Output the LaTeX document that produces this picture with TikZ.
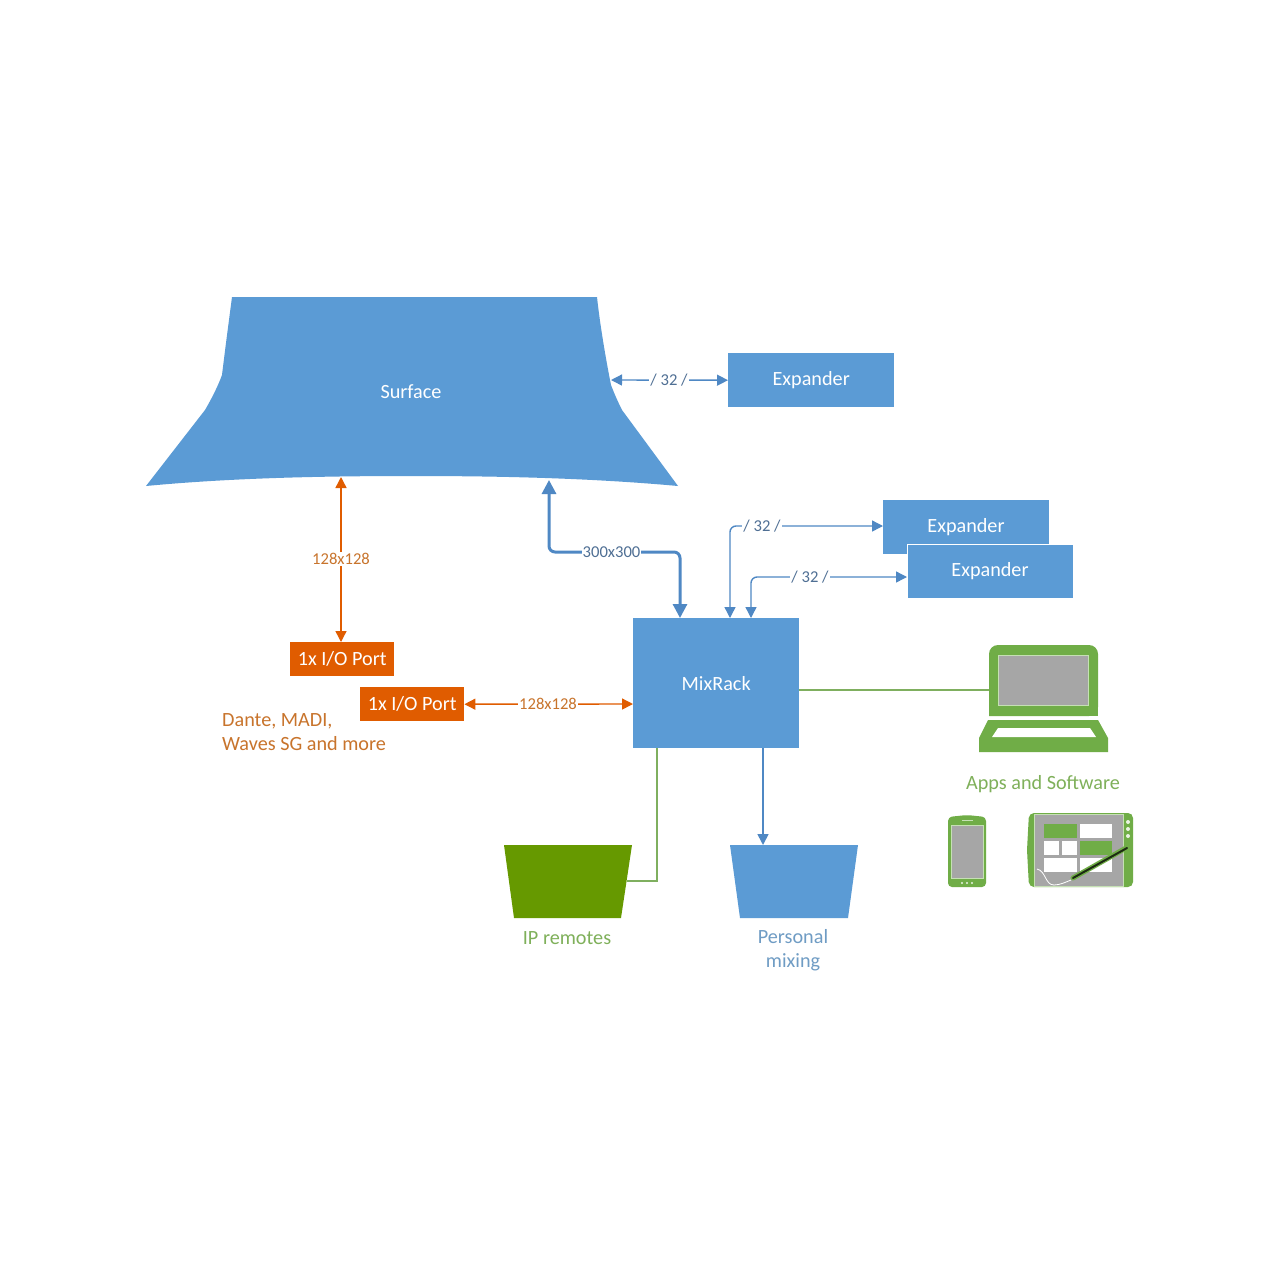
\documentclass[tikz,border=0pt]{standalone}
\usepackage{fontspec}
\setmainfont{Carlito}
\usetikzlibrary{arrows.meta}
\definecolor{mblue}{HTML}{5B9BD5}
\definecolor{lblue}{HTML}{4F88C4}
\definecolor{txtblue}{HTML}{4F6F94}
\definecolor{lightblue}{HTML}{6F9CC4}
\definecolor{morange}{HTML}{E05C00}
\definecolor{txtorange}{HTML}{C8742C}
\definecolor{mgreen}{HTML}{70AD47}
\definecolor{linegreen}{HTML}{7FAF5F}
\definecolor{dgreen}{HTML}{669900}
\definecolor{txtgreen}{HTML}{7FB05A}
\definecolor{scrgray}{HTML}{A6A6A6}
\definecolor{scrline}{HTML}{C5E0B4}
\tikzset{
  base text/.style={font=\fontsize{20.2}{24}\selectfont},
  box/.style={base text,fill=mblue,text=white,inner sep=0pt,anchor=north west},
  portbox/.style={box,fill=morange,minimum width=104pt,minimum height=34pt},
  expbox/.style={box,minimum width=166pt,minimum height=54pt},
  tag/.style={font=\fontsize{16.6}{20}\selectfont,fill=white,inner sep=1pt},
  bluetag/.style={tag,text=txtblue},
  orangetag/.style={tag,text=txtorange},
  caption/.style={base text,inner sep=0pt,align=center},
  bluewire/.style={draw=lblue,line width=1.4pt,rounded corners=6pt,{Triangle[length=11pt,width=11pt]}-{Triangle[length=11pt,width=11pt]}},
  thickwire/.style={bluewire,line width=3pt,{Triangle[length=14pt,width=14pt]}-{Triangle[length=14pt,width=14pt]}},
  orangewire/.style={draw=morange,line width=1.4pt,{Triangle[length=11pt,width=11pt]}-{Triangle[length=11pt,width=11pt]}},
  greenwire/.style={draw=linegreen,line width=1.6pt},
  oneway/.style={draw=lblue,line width=1.6pt,-{Triangle[length=11pt,width=11pt]}},
}
\begin{document}
\begin{tikzpicture}[x=1pt,y=-1pt]
\useasboundingbox (0,0) rectangle (1280,1280);
\fill[white] (0,0) rectangle (1280,1280);

% anchor points
\coordinate (sfRight) at (611,380);
\coordinate (sfLeftIn) at (341,477);
\coordinate (portTop) at (341,642);
\coordinate (sfRightIn) at (549,480);
\coordinate (mixThick) at (680,618);
\coordinate (mixA) at (730,618);
\coordinate (mixB) at (751,618);
\coordinate (mixL) at (633,704);
\coordinate (mixG) at (799,690);
\coordinate (mixIP) at (657,748);
\coordinate (mixPM) at (763,748);
\coordinate (ipEdge) at (627,881);
\coordinate (pmTop) at (763,845);
\coordinate (expC) at (883,526);
\coordinate (expD) at (907,577);
\coordinate (lapEdge) at (989,690);

% surface
\fill[mblue] (232,297) -- (597,297) .. controls (600,325) and (606,360) .. (611,385)
  .. controls (614,393) and (618,402) .. (622,410) -- (678,486)
  .. controls (590,478) and (500,476) .. (412,476)
  .. controls (320,476) and (230,478) .. (146,486) -- (205,410)
  .. controls (212,398) and (218,386) .. (222,375) .. controls (225,350) and (229,320) .. (232,297) -- cycle;
\node[base text,text=white,inner sep=0pt] (surface) at (411,392) {Surface};

% boxes
\node[expbox] (exp1) at (728,353) {Expander};
\node[expbox] (exp2) at (883,499.5) {};
\node[base text,text=white,inner sep=0pt] (exp2t) at (966,527) {Expander};
\node[expbox,draw=white,line width=1pt] (exp3) at (906.5,543.5) {Expander};
\node[box,minimum width=166pt,minimum height=130pt] (mix) at (633,618) {MixRack};
\node[portbox] (port1) at (290,642) {1x I/O Port};
\node[portbox] (port2) at (360,687) {1x I/O Port};

% trapezoids
\fill[dgreen] (504,845) -- (632,845) -- (621,918) -- (514,918) -- cycle;
\fill[mblue] (730,845) -- (858,845) -- (848,918) -- (740,918) -- cycle;

% connectors
\draw[bluewire] (sfRight) -- (exp1.west);
\draw[orangewire] (sfLeftIn) -- (portTop);
\draw[thickwire] (sfRightIn) -- (549,552) -- (680,552) -- (mixThick);
\draw[bluewire] (mixA) -- (730,526) -- (expC);
\draw[bluewire] (mixB) -- (751,577) -- (expD);
\draw[orangewire] (port2.east) -- (mixL);
\draw[greenwire] (mixG) -- (lapEdge);
\draw[greenwire] (mixIP) -- (657,881) -- (ipEdge);
\draw[oneway] (mixPM) -- (pmTop);

% connector labels
\node[bluetag] (l32a) at (669,380) {/ 32 /};
\node[orangetag] (l128a) at (341,559) {128x128};
\node[bluetag] (l300) at (611.5,552) {300x300};
\node[bluetag] (l32b) at (762,526) {/ 32 /};
\node[bluetag] (l32c) at (810,577) {/ 32 /};
\node[orangetag] (l128b) at (548,704) {128x128};

% captions
\node[caption,text=txtorange,align=left,anchor=west] (dante) at (222,732) {Dante, MADI,\\Waves SG and more};
\node[caption,text=txtgreen] (iprem) at (567,938) {IP remotes};
\node[caption,text=lightblue] (pers) at (793,950.5) {Personal\\mixing};
\node[caption,text=txtgreen] (apps) at (1043,784) {Apps and Software};

% laptop
\fill[mgreen,rounded corners=9pt] (989,716) -- (989,645) -- (1098,645) -- (1098,716) [sharp corners] -- cycle;
\fill[mgreen] (989,716) rectangle (1098,706);
\draw[scrline,fill=scrgray,line width=1pt] (998,655) rectangle (1088,705);
\fill[mgreen] (988,720) -- (1098,720) -- (1108,738) -- (1108,752) -- (979,752) -- (979,738) -- cycle;
\fill[white] (998,728) -- (1090,728) -- (1096,737) -- (992,737) -- cycle;

% phone
\fill[mgreen,rounded corners=4pt] (948,817) -- (967,815) -- (986,817) -- (986,887) -- (948,887) -- cycle;
\draw[scrline,fill=scrgray,line width=.8pt] (951,825) rectangle (983,878);
\draw[scrline,line width=.8pt] (962,820) -- (973,820);
\foreach \px in {962,967,972} \fill[white!85!mgreen] (\px,883) circle (1.2pt);

% tablet
\fill[mgreen,rounded corners=5pt] (1029,813) -- (1133,813) -- (1133,887) -- (1029,887) -- (1027,850) -- cycle;
\draw[scrline,fill=scrgray,line width=.8pt] (1034,814) rectangle (1123,886);
\fill[mgreen] (1044,824) rectangle (1077,838);
\fill[white] (1080,824) rectangle (1112,838);
\fill[white] (1044,841) rectangle (1059,855);
\fill[white] (1062,841) rectangle (1077,855);
\fill[mgreen] (1080,841) rectangle (1112,855);
\fill[white] (1044,858) rectangle (1077,872);
\fill[white] (1080,858) rectangle (1112,872);
\foreach \py in {822,829,836} \fill[white!85!mgreen] (1128,\py) circle (2pt);
\draw[white,line width=.8pt] (1037,869) .. controls (1046,871) and (1045,885) .. (1054,885) .. controls (1060,885) and (1066,882) .. (1071,880);
\draw[mgreen,line width=5pt,line cap=round] (1073,878) -- (1126,848);
\draw[black!75!mgreen,line width=2pt,line cap=round] (1073,878) -- (1127,848);
\end{tikzpicture}
\end{document}
